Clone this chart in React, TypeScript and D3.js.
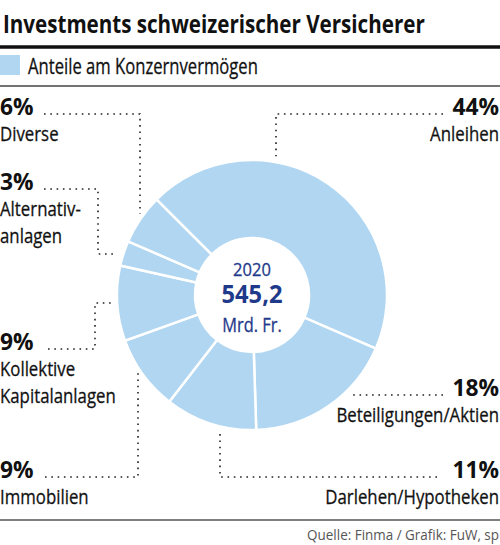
import { useLayoutEffect, useMemo, useRef, useState } from "react";
import * as d3 from "d3";

// Anteile am Konzernvermögen 2020 (in %)
const categories = [
  "Anleihen",
  "Beteiligungen/Aktien",
  "Darlehen/Hypotheken",
  "Immobilien",
  "Kollektive Kapitalanlagen",
  "Alternativanlagen",
  "Diverse",
];
const shares = [44, 18, 11, 9, 9, 3, 6];
const labelLines = [
  ["Anleihen"],
  ["Beteiligungen/Aktien"],
  ["Darlehen/Hypotheken"],
  ["Immobilien"],
  ["Kollektive", "Kapitalanlagen"],
  ["Alternativ-", "anlagen"],
  ["Diverse"],
];
const centerYear = "2020";
const centerTotal = "545,2";
const centerUnit = "Mrd. Fr.";
const title = "Investments schweizerischer Versicherer";
const legendLabel = "Anteile am Konzernvermögen";
const source = "Quelle: Finma / Grafik: FuW, sp";

const W = 500;
const H = 545;
const FILL = "#b0d6f1";
const NAVY = "#1f3a8a";
const INK = "#111";
const FONT = "'Open Sans', 'Noto Sans', sans-serif";
// no condensed face installed: squeeze glyphs horizontally
const K_REG = 0.82;
const K_BOLD = 0.95;

type Place = {
  side: "left" | "right";
  y: number;
  from: number;
  elbow?: number;
  hookY?: number;
};
// label baseline + leader route (straight, elbow-down/up, or elbow + hook)
const places: Place[] = [
  { side: "right", y: 115, from: 443, elbow: 276 },
  { side: "right", y: 396, from: 443 },
  { side: "right", y: 478, from: 437, elbow: 220 },
  { side: "left", y: 478, from: 45, elbow: 138 },
  { side: "left", y: 350, from: 48, elbow: 95, hookY: 303 },
  { side: "left", y: 190, from: 44, elbow: 98, hookY: 254 },
  { side: "left", y: 115, from: 44, elbow: 140 },
];

type TextProps = {
  x: number;
  y: number;
  size: number;
  anchor?: "start" | "middle" | "end";
  bold?: boolean;
  fill?: string;
  heavy?: number;
  children: string;
};

function SqText(props: TextProps & { k: number }) {
  const { x, y, k, size, anchor = "start", bold, fill = INK, heavy = 0, children } = props;
  return (
    <text
      transform={`translate(${x},${y}) scale(${k},1)`}
      textAnchor={anchor}
      fontSize={size}
      fontWeight={bold ? "bold" : "normal"}
      fill={fill}
      stroke={heavy ? fill : "none"}
      strokeWidth={heavy}
    >
      {children}
    </text>
  );
}

// squeezes the text so it spans the given width
function FitText(props: TextProps & { width: number }) {
  const { width, children } = props;
  const ref = useRef<SVGTextElement>(null);
  const [k, setK] = useState(1);
  useLayoutEffect(() => {
    const el = ref.current;
    if (!el) return;
    const natural = el.getComputedTextLength();
    if (natural > 0) setK(width / natural);
  }, [width, children]);
  const { x, y, size, anchor = "start", bold, fill = INK, heavy = 0 } = props;
  return (
    <text
      ref={ref}
      transform={`translate(${x},${y}) scale(${k},1)`}
      textAnchor={anchor}
      fontSize={size}
      fontWeight={bold ? "bold" : "normal"}
      fill={fill}
      stroke={heavy ? fill : "none"}
      strokeWidth={heavy}
    >
      {children}
    </text>
  );
}

export default function App() {
  const cx = 252;
  const cy = 295;
  const rOuter = 135;
  const rInner = 57;
  const gap = 6;

  const arcs = useMemo(
    () =>
      d3
        .pie<number>()
        .sort(null)
        .startAngle(-Math.PI / 4)
        .endAngle((7 * Math.PI) / 4)(shares),
    []
  );
  const arcGen = d3
    .arc<d3.PieArcDatum<number>>()
    .innerRadius(rInner)
    .outerRadius(rOuter);

  const ringYAt = (x: number, below: boolean) => {
    const dy = Math.sqrt(rOuter * rOuter - (x - cx) * (x - cx));
    return below ? cy + dy + gap : cy - dy - gap;
  };
  const ringXAt = (y: number, right: boolean) => {
    const dx = Math.sqrt(rOuter * rOuter - (y - cy) * (y - cy));
    return right ? cx + dx + gap : cx - dx - gap;
  };

  const leaders = places.map((p) => {
    const ly = p.y - 1;
    const pts: [number, number][] = [[p.from, ly]];
    if (p.elbow === undefined) {
      pts.push([ringXAt(ly, p.side === "right"), ly]);
    } else if (p.hookY !== undefined) {
      pts.push([p.elbow, ly]);
      pts.push([p.elbow, p.hookY]);
      pts.push([ringXAt(p.hookY, p.side === "right"), p.hookY]);
    } else {
      pts.push([p.elbow, ly]);
      pts.push([p.elbow, ringYAt(p.elbow, ly > cy)]);
    }
    return d3.line()(pts) as string;
  });

  return (
    <svg
      width={W}
      height={H}
      viewBox={`0 0 ${W} ${H}`}
      style={{ position: "absolute", left: 0, top: 0, background: "#fff" }}
      fontFamily={FONT}
    >
      <FitText x={3} y={33} size={25} bold width={422}>
        {title}
      </FitText>
      <line x1={0} x2={W} y1={47} y2={47} stroke={INK} strokeWidth={3.5} />

      <rect x={0} y={55} width={20} height={20} fill={FILL} />
      <FitText x={28} y={74} size={21} width={230} heavy={0.3}>
        {legendLabel}
      </FitText>
      <line x1={0} x2={W} y1={86} y2={86} stroke="#444" strokeWidth={1.5} />

      <g transform={`translate(${cx},${cy})`}>
        {arcs.map((a, i) => (
          <path
            key={categories[i]}
            d={arcGen(a) as string}
            fill={FILL}
            stroke="#fff"
            strokeWidth={2.5}
          />
        ))}
        <SqText x={0} y={-19} k={0.87} size={19} anchor="middle" fill={NAVY} heavy={0.3}>
          {centerYear}
        </SqText>
        <SqText x={0} y={8} k={K_BOLD} size={25} anchor="middle" bold fill={NAVY}>
          {centerTotal}
        </SqText>
        <SqText x={0} y={37} k={0.8} size={20.5} anchor="middle" fill={NAVY} heavy={0.3}>
          {centerUnit}
        </SqText>
      </g>

      {leaders.map((d, i) => (
        <path
          key={`l${i}`}
          d={d}
          fill="none"
          stroke="#222"
          strokeWidth={1.6}
          strokeDasharray="1.6 4.7"
        />
      ))}

      {places.map((p, i) => {
        const x = p.side === "right" ? 499 : 0;
        const anchor = p.side === "right" ? "end" : "start";
        return (
          <g key={`t${i}`}>
            <SqText x={x} y={p.y} k={K_BOLD} size={24} anchor={anchor} bold>
              {`${shares[i]}%`}
            </SqText>
            {labelLines[i].map((ln, j) => (
              <SqText
                key={ln}
                x={x}
                y={p.y + 26 + j * 27}
                k={K_REG}
                size={20.5}
                anchor={anchor}
                heavy={0.3}
              >
                {ln}
              </SqText>
            ))}
          </g>
        );
      })}

      <line x1={0} x2={W} y1={520} y2={520} stroke="#555" strokeWidth={1.5} />
      <FitText x={499} y={540} size={14} anchor="end" fill="#555" width={192}>
        {source}
      </FitText>
    </svg>
  );
}
